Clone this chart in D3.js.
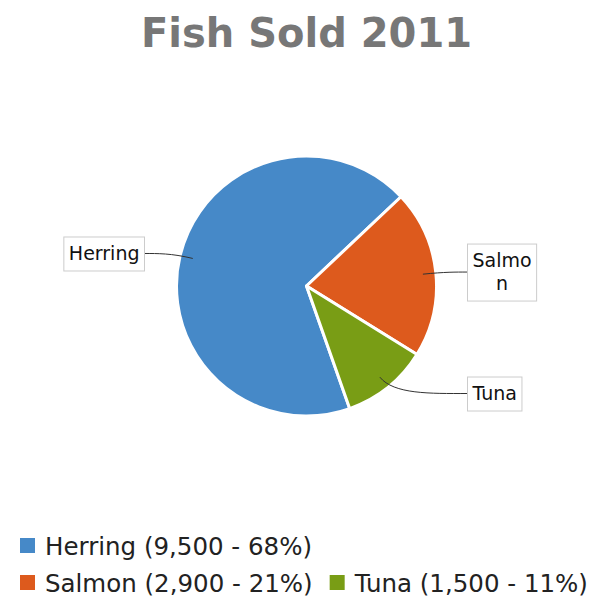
<!DOCTYPE html>
<html>
<head>
<meta charset="utf-8">
<script src="https://cdn.jsdelivr.net/npm/d3@7"></script>
<style>
body { margin: 0; background: #fff; }
</style>
</head>
<body>
<svg id="chart" width="605" height="598"></svg>
<script>
// chart data
var title = "Fish Sold 2011";
var fish = ["Herring", "Salmon", "Tuna"];
var sold = [9500, 2900, 1500];

// look
var colors = ["#4689c8", "#dd5a1d", "#799d15"];
var W = 605, H = 598;
var cx = 306.5, cy = 286, R = 130;
var startDeg = 160.6; // herring starts here, clockwise from 12 o'clock
var labelFont = 19, lineH = 23, pad = 5.5;

var svg = d3.select("#chart");
var font = "DejaVu Sans, sans-serif";

svg.append("rect").attr("width", W).attr("height", H).attr("fill", "#fff");

// title
svg.append("text")
    .attr("x", W / 2 + 4)
    .attr("y", 47)
    .attr("text-anchor", "middle")
    .style("font-family", font)
    .style("font-weight", "bold")
    .style("font-size", "40px")
    .style("fill", "#777")
    .text(title);

var rows = fish.map(function(f, i) { return {name: f, value: sold[i], color: colors[i]}; });
var total = d3.sum(sold);

var pie = d3.pie()
    .sort(null)
    .value(function(d) { return d.value; })
    .startAngle(startDeg * Math.PI / 180)
    .endAngle(startDeg * Math.PI / 180 + 2 * Math.PI);

var arcs = pie(rows);
var arc = d3.arc().innerRadius(0).outerRadius(R);

var g = svg.append("g").attr("transform", "translate(" + cx + "," + cy + ")");

g.selectAll("path.slice")
    .data(arcs)
    .enter()
    .append("path")
    .attr("class", "slice")
    .attr("d", arc)
    .attr("fill", function(d) { return d.data.color; })
    .attr("stroke", "#fff")
    .attr("stroke-width", 3)
    .attr("stroke-linejoin", "round");

// measure text helper
var meas = svg.append("text")
    .style("font-family", font)
    .style("font-size", labelFont + "px")
    .attr("visibility", "hidden");
function textW(s) {
    meas.text(s);
    return meas.node().getComputedTextLength();
}
// wraps by characters, like the original did with "Salmo/n"
function wrap(s, maxW) {
    var lines = [], cur = "";
    for (var k = 0; k < s.length; k++) {
        var t = cur + s[k];
        if (cur && textW(t) > maxW) { lines.push(cur); cur = s[k]; }
        else cur = t;
    }
    if (cur) lines.push(cur);
    return lines;
}

function pt(a, r) { return [cx + r * Math.sin(a), cy - r * Math.cos(a)]; }

var leftEdge = 144, rightEdge = 467;

arcs.forEach(function(d) {
    var m = (d.startAngle + d.endAngle) / 2;
    var left = Math.sin(m) < 0;
    var lines = wrap(d.data.name, left ? 80 : 64);
    var tw = d3.max(lines, textW);
    var bw = tw + 2 * pad - 1, bh = lines.length * lineH + 2 * pad;
    var yc = cy - 138 * Math.cos(m);
    var bx = left ? leftEdge - bw : rightEdge;
    var by = yc - bh / 2;

    var a = pt(m, R * 0.9), e = pt(m, R * 1.07);
    var end = [left ? leftEdge : rightEdge, yc];
    var p = d3.path();
    p.moveTo(a[0], a[1]);
    p.bezierCurveTo(e[0], e[1], (e[0] + end[0]) / 2, end[1], end[0], end[1]);
    svg.append("path")
        .attr("d", p.toString())
        .attr("fill", "none")
        .attr("stroke", "#333")
        .attr("stroke-width", 1);

    svg.append("rect")
        .attr("x", bx + 0.5).attr("y", by + 0.5)
        .attr("width", bw).attr("height", bh)
        .attr("fill", "#fff")
        .attr("stroke", "#ccc")
        .attr("stroke-width", 1);

    var t = svg.append("text")
        .attr("text-anchor", "middle")
        .style("font-family", font)
        .style("font-size", labelFont + "px")
        .style("fill", "#111");
    lines.forEach(function(l, k) {
        t.append("tspan")
            .attr("x", bx + bw / 2 + 0.5)
            .attr("y", by + pad + k * lineH + 18)
            .text(l);
    });
});

// legend, flow layout
var fmt = d3.format(",");
var legFont = 24.5, sq = 15, legX = 20, rowY = [555, 592];
var lm = svg.append("text").style("font-family", font).style("font-size", legFont + "px").attr("visibility", "hidden");
var x = legX, row = 0;
rows.forEach(function(d, i) {
    var label = d.name + " (" + fmt(d.value) + " - " + Math.round(d.value / total * 100) + "%)";
    lm.text(label);
    var w = sq + 10 + lm.node().getComputedTextLength();
    if (x > legX && x + w > W) { row++; x = legX; }
    var y = rowY[row];
    svg.append("rect")
        .attr("x", x).attr("y", y - 17)
        .attr("width", sq).attr("height", sq)
        .attr("fill", d.color);
    svg.append("text")
        .attr("x", x + sq + 10).attr("y", y)
        .style("font-family", font)
        .style("font-size", legFont + "px")
        .style("fill", "#222")
        .text(label);
    x += w + 17;
});
</script>
</body>
</html>
